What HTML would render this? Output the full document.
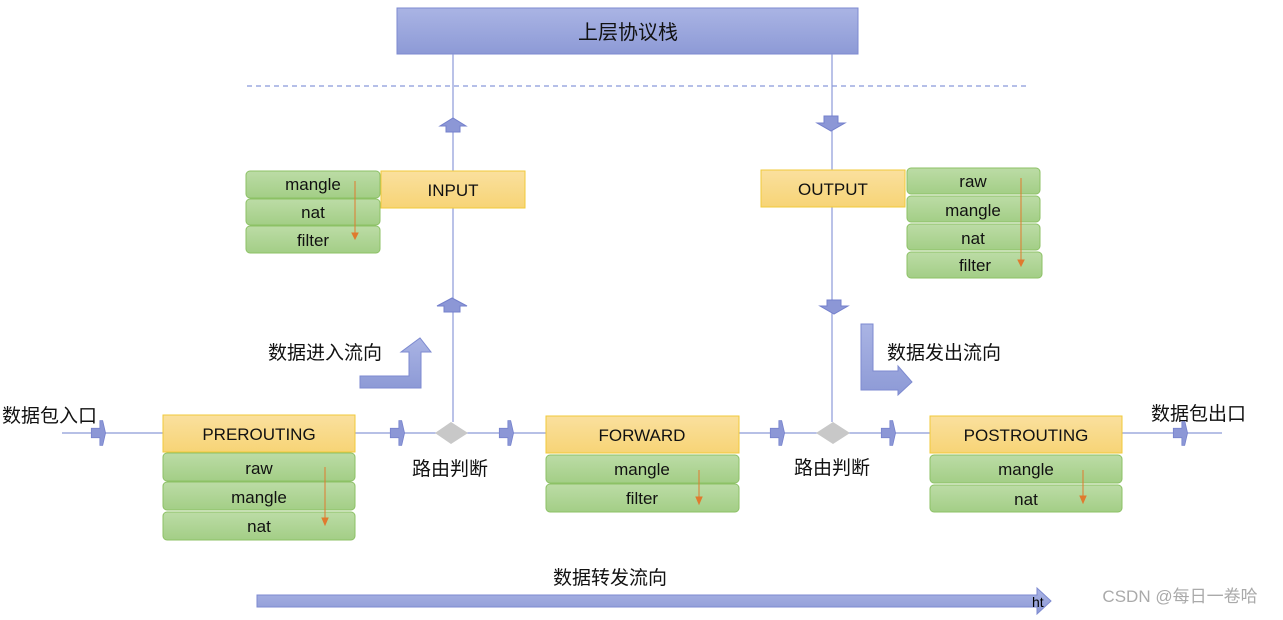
<!DOCTYPE html>
<html><head><meta charset="utf-8"><style>
body{margin:0;background:#fff;}
svg text{font-family:"Liberation Sans","Noto Sans CJK SC",sans-serif;}
</style></head><body>
<svg width="1283" height="615" viewBox="0 0 1283 615" xmlns="http://www.w3.org/2000/svg">
<defs>
<linearGradient id="bl" x1="0" y1="0" x2="0" y2="1"><stop offset="0" stop-color="#aab4e4"/><stop offset="1" stop-color="#8d9ad6"/></linearGradient>
<linearGradient id="yl" x1="0" y1="0" x2="0" y2="1"><stop offset="0" stop-color="#fae09e"/><stop offset="1" stop-color="#f7d476"/></linearGradient>
<linearGradient id="gr" x1="0" y1="0" x2="0" y2="1"><stop offset="0" stop-color="#bcdca6"/><stop offset="1" stop-color="#a3ce86"/></linearGradient>
<g id="ra"><path d="M-6,-5 L3,-5 L3,-13 L6,-13 L9,0 L6,13 L3,13 L3,5 L-6,5 Z" transform="scale(0.95)" fill="#8c97d6" stroke="#7480cc" stroke-width="0.8"/></g>
</defs>
<rect x="397" y="8" width="461" height="46" fill="url(#bl)" stroke="#7d8ad0"/>
<text x="628" y="39" font-size="20" text-anchor="middle" fill="#111">上层协议栈</text>
<line x1="247" y1="86" x2="1028" y2="86" stroke="#6b7fd1" stroke-dasharray="5,4"/>
<g stroke="#8c9ad8" stroke-width="1.2">
<line x1="453" y1="54" x2="453" y2="422"/>
<line x1="832" y1="54" x2="832" y2="422"/>
<line x1="62" y1="433" x2="1222" y2="433"/>
</g>
<!-- vertical small arrows -->
<path d="M446,132 L446,126 L440,126 L453,118 L466,126 L460,126 L460,132 Z" fill="#8c97d6" stroke="#7480cc"/>
<path d="M444,312 L444,306 L437,306 L452,298 L467,306 L460,306 L460,312 Z" fill="#8c97d6" stroke="#7480cc"/>
<path d="M824,116 L824,123 L817,123 L831,131 L845,123 L838,123 L838,116 Z" fill="#8c97d6" stroke="#7480cc"/>
<path d="M827,300 L827,306 L820,306 L834,314 L848,306 L841,306 L841,300 Z" fill="#8c97d6" stroke="#7480cc"/>
<!-- right arrows -->
<use href="#ra" x="97" y="433"/><use href="#ra" x="396" y="433"/><use href="#ra" x="505" y="433"/>
<use href="#ra" x="776" y="433"/><use href="#ra" x="887" y="433"/><use href="#ra" x="1179" y="433"/>
<!-- diamonds -->
<path d="M435,433 L451,422 L468,433 L451,444 Z" fill="#c8c8c8"/>
<path d="M816,433 L833,422 L850,433 L833,444 Z" fill="#c8c8c8"/>
<g font-size="19" fill="#111">
<text x="450" y="475" text-anchor="middle">路由判断</text>
<text x="832" y="474" text-anchor="middle">路由判断</text>
<text x="2" y="422">数据包入口</text>
<text x="1151" y="420">数据包出口</text>
<text x="268" y="359">数据进入流向</text>
<text x="887" y="359">数据发出流向</text>
<text x="610" y="584" text-anchor="middle">数据转发流向</text>
</g>
<!-- bent arrows -->
<path d="M360,376 L409,376 L409,352 L401,352 L420,338 L431,352 L421,352 L421,388 L360,388 Z" fill="url(#bl)" stroke="#7d8ad0"/>
<path d="M861,324 L873,324 L873,371 L898,371 L898,366 L912,382 L898,395 L898,390 L861,390 Z" fill="url(#bl)" stroke="#7d8ad0"/>
<!-- bottom arrow -->
<path d="M257,595 L1037,595 L1037,588 L1051,601 L1037,614 L1037,607 L257,607 Z" fill="url(#bl)" stroke="#7d8ad0"/>
<text x="1032" y="607" font-size="14" font-family="Liberation Serif,serif" fill="#000">ht</text>
<text x="1180" y="602" font-size="17" text-anchor="middle" fill="#aaa">CSDN @每日一卷哈</text>
<!-- yellow boxes -->
<g stroke="#f0c93a" fill="url(#yl)">
<rect x="381" y="171" width="144" height="37"/>
<rect x="761" y="170" width="144" height="37"/>
<rect x="163" y="415" width="192" height="37"/>
<rect x="546" y="416" width="193" height="37"/>
<rect x="930" y="416" width="192" height="37"/>
</g>
<g font-size="17" text-anchor="middle" fill="#111">
<text x="453" y="196">INPUT</text>
<text x="833" y="195">OUTPUT</text>
<text x="259" y="440">PREROUTING</text>
<text x="642" y="441">FORWARD</text>
<text x="1026" y="441">POSTROUTING</text>
</g>
<!-- green boxes -->
<g stroke="#8cc165" fill="url(#gr)">
<rect x="246" y="171" width="134" height="27" rx="4"/>
<rect x="246" y="199" width="134" height="26" rx="4"/>
<rect x="246" y="226" width="134" height="27" rx="4"/>
<rect x="907" y="168" width="133" height="26" rx="4"/>
<rect x="907" y="196" width="133" height="26" rx="4"/>
<rect x="907" y="224" width="133" height="26" rx="4"/>
<rect x="907" y="252" width="135" height="26" rx="4"/>
<rect x="163" y="453" width="192" height="28" rx="4"/>
<rect x="163" y="482" width="192" height="28" rx="4"/>
<rect x="163" y="512" width="192" height="28" rx="4"/>
<rect x="546" y="455" width="193" height="28" rx="4"/>
<rect x="546" y="484" width="193" height="28" rx="4"/>
<rect x="930" y="455" width="192" height="28" rx="4"/>
<rect x="930" y="485" width="192" height="27" rx="4"/>
</g>
<g font-size="17" text-anchor="middle" fill="#111">
<text x="313" y="190">mangle</text><text x="313" y="218">nat</text><text x="313" y="246">filter</text>
<text x="973" y="187">raw</text><text x="973" y="216">mangle</text><text x="973" y="244">nat</text><text x="975" y="271">filter</text>
<text x="259" y="474">raw</text><text x="259" y="503">mangle</text><text x="259" y="532">nat</text>
<text x="642" y="475">mangle</text><text x="642" y="504">filter</text>
<text x="1026" y="475">mangle</text><text x="1026" y="505">nat</text>
</g>
<!-- orange arrows -->
<g stroke="#e07a2e" fill="#e07a2e" stroke-width="1">
<line x1="355" y1="181" x2="355" y2="234"/><path d="M352,233 L358,233 L355,239 Z"/>
<line x1="1021" y1="178" x2="1021" y2="261"/><path d="M1018,260 L1024,260 L1021,266 Z"/>
<line x1="325" y1="467" x2="325" y2="519"/><path d="M322,518 L328,518 L325,525 Z"/>
<line x1="699" y1="470" x2="699" y2="498"/><path d="M696,497 L702,497 L699,504 Z"/>
<line x1="1083" y1="470" x2="1083" y2="497"/><path d="M1080,496 L1086,496 L1083,503 Z"/>
</g>
</svg>
</body></html>
